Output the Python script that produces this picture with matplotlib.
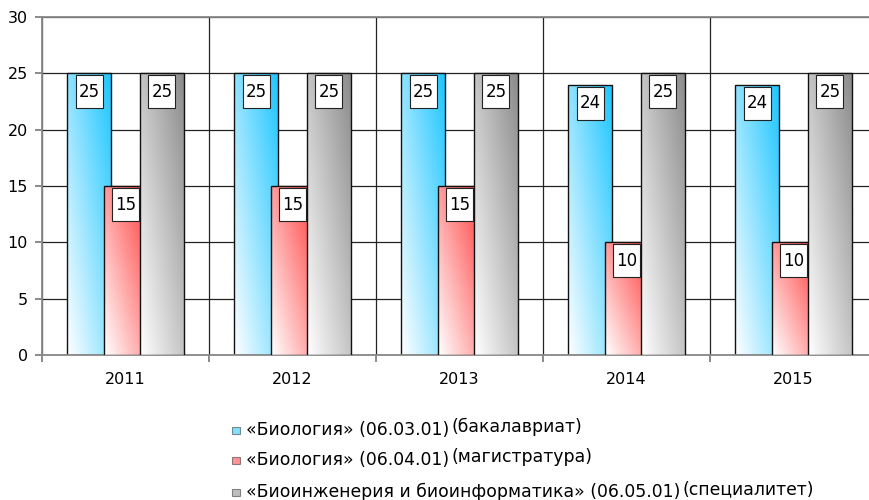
import numpy as np
import matplotlib
matplotlib.use("Agg")
import matplotlib.pyplot as plt
import matplotlib.transforms as mtransforms
from matplotlib.colors import LinearSegmentedColormap
from matplotlib.patches import Rectangle

years = ["2011", "2012", "2013", "2014", "2015"]
bachelor = [25, 25, 25, 24, 24]
master = [15, 15, 15, 10, 10]
specialist = [25, 25, 25, 25, 25]
series_names = ["«Биология» (06.03.01)", "«Биология» (06.04.01)",
                "«Биоинженерия и биоинформатика» (06.05.01)"]
series_suffix = ["(бакалавриат)", "(магистратура)", "(специалитет)"]
top_colors = ["#1fc6ff", "#ff3c3c", "#8c8c8c"]

plt.rcParams['font.family'] = ['DejaVu Sans']
fig = plt.figure(figsize=(8.7, 5), dpi=100)
ax = fig.add_axes([42 / 870, 145 / 500, 835 / 870, 338 / 500])

x = np.arange(len(years))
width = 0.263
offsets = [-0.218, 0.0, 0.218]
data = [bachelor, master, specialist]

# diagonal gradient: white at bottom-left -> colour at top-right
gy, gx = np.mgrid[0:1:100j, 0:1:50j]
grad = np.clip(0.5 * gx + 0.5 * gy, 0, 1)

for i, vals in enumerate(data):
    cmap = LinearSegmentedColormap.from_list("g%d" % i, ["#ffffff", top_colors[i]])
    z = 2 + i
    bars = ax.bar(x + offsets[i], vals, width, color="none", edgecolor="#111111",
                  linewidth=1, zorder=z + 0.2)
    for b in bars:
        x0, h = b.get_x(), b.get_height()
        im = ax.imshow(grad, cmap=cmap, vmin=0, vmax=1, origin="lower", aspect="auto",
                       extent=[x0, x0 + width, 0, h], zorder=z, interpolation="bilinear")
        clip = Rectangle((x0, 0), width, h, transform=ax.transData)
        im.set_clip_path(clip)
        # white label box just under the bar top (sizes in inches)
        tr = fig.dpi_scale_trans + mtransforms.ScaledTranslation(x0 + width / 2, h, ax.transData)
        ax.add_patch(Rectangle((-0.135, -0.35), 0.27, 0.33, transform=tr, fc="white",
                               ec="#222222", lw=0.8, zorder=10))
        ax.text(0, -0.185, str(h), transform=tr, ha="center", va="center",
                fontsize=12, zorder=11)

ax.set_xlim(-0.5, len(years) - 0.5)
ax.set_ylim(0, 30)
ax.set_yticks(range(0, 31, 5))
ax.set_xticks(np.arange(-0.5, len(years), 1.0))
ax.set_xticklabels([])
ax.set_xticks(x, minor=True)
ax.set_xticklabels(years, minor=True)
ax.tick_params(axis="x", which="minor", length=0, pad=12, labelsize=11.5)
ax.tick_params(axis="x", which="major", length=5, color="#777777", width=1.2)
ax.tick_params(axis="y", length=5, color="#777777", width=1.2, pad=5, labelsize=11.5)
ax.set_axisbelow(True)
ax.grid(True, which="major", color="#222222", linewidth=0.9)
for s in ["left", "bottom", "top"]:
    ax.spines[s].set_color("#888888")
    ax.spines[s].set_linewidth(1.3)
ax.spines["right"].set_visible(False)

# legend drawn by hand (suffix is raised a bit like in the original)
row_y = [430, 460, 492]
fig.canvas.draw()
renderer = fig.canvas.get_renderer()
for i in range(3):
    yf = 1 - row_y[i] / 500
    fig.patches.append(Rectangle((232 / 870, yf - 3.5 / 500), 8 / 870, 7 / 500,
                                 transform=fig.transFigure, fc=top_colors[i], ec="#333333",
                                 lw=0.8, alpha=0.55))
    t1 = fig.text(246 / 870, yf, series_names[i], fontsize=12.4, va="center", ha="left")
    bb = t1.get_window_extent(renderer)
    fig.text((bb.x1 + 2) / 870, yf + 2.7 / 500, series_suffix[i], fontsize=12.4,
             va="center", ha="left")

fig.savefig("out.png", dpi=100)
